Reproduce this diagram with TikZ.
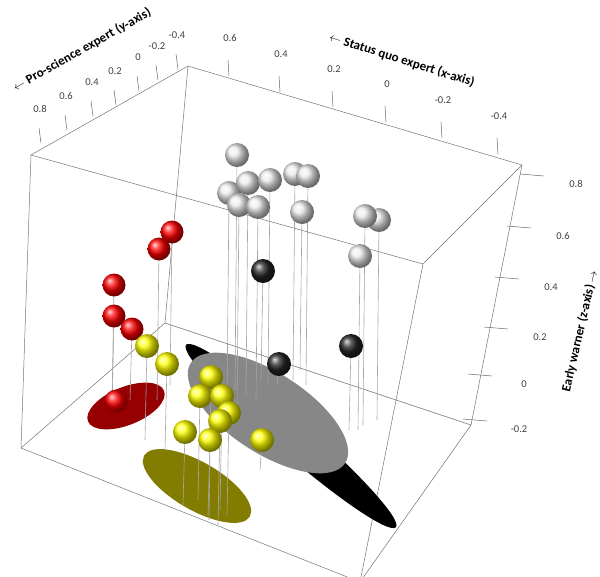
\documentclass[tikz,border=0pt]{standalone}
\usepackage{fontspec}
\setmainfont{Carlito}
\usepackage{tikz}
\definecolor{DarkRedFill}{RGB}{150,0,0}
\definecolor{OliveFill}{RGB}{130,125,0}
\definecolor{GreyFill}{RGB}{135,135,135}

\begin{document}
\begin{tikzpicture}[x=1pt,y=-1pt,
  boxline/.style={draw=black!55,line width=0.5pt},
  tick/.style={draw=black!60,line width=0.5pt},
  ticklbl/.style={font=\fontsize{10.5}{10.5}\selectfont,text=black!75},
  axlbl/.style={font=\bfseries\fontsize{13}{13}\selectfont},
  drop/.style={draw=black!35,line width=0.6pt},
  ball/.style n args={2}{circle,minimum size=#2,inner sep=0pt,shading=ball,ball color=#1}]
\useasboundingbox (0,0) rectangle (600,576);
% box corners
\coordinate (abl) at (188,66);  \coordinate (afl) at (31,155);
\coordinate (abr) at (522,165); \coordinate (afr) at (423,264);
\coordinate (bbl) at (165,323); \coordinate (bfl) at (21,448);
\coordinate (bbr) at (471,425); \coordinate (bfr) at (360,582);
\draw[boxline] (afl) -- (abl) -- (abr) -- (afr) -- cycle;
\draw[boxline] (abl) -- (bbl) -- (bfl);
\draw[boxline] (bbl) -- (bbr);
\draw[boxline] (afl) -- (bfl) -- (bfr) -- (bbr) -- (abr);
\draw[boxline] (afr) -- (bfr);
% ticks and labels, y-axis
\foreach \x/\y/\l in {40/109/0.8,66/96/0.6,92/82/0.4,115/71/0.2,138/57/0,157/46/-0.2,177/35/-0.4}{
  \draw[tick] (\x-1,\y+19) -- (\x+1,\y+34);
  \node[ticklbl] at (\x,\y) {\l};
}
% ticks and labels, x-axis
\foreach \x/\y/\l in {230/38/0.6,281/54/0.4,334/69/0.2,387/84/0,443/100/-0.2,499/116/-0.4}{
  \draw[tick] (\x-2,\y+22) -- (\x-1,\y+38);
  \node[ticklbl] at (\x,\y) {\l};
}
% ticks and labels, z-axis
\foreach \x/\y/\l in {576/184/0.8,563/236/0.6,551/287/0.4,540/337/0.2,524/384/0,519/429/-0.2}{
  \draw[tick] (\x-56,\y-10) -- (\x-32,\y-8);
  \node[ticklbl] at (\x,\y) {\l};
}
\node[axlbl,rotate=29.5] (ylab) at (82,50) {$\leftarrow$ Pro-science expert (y-axis)};
\node[axlbl,rotate=-17.6] (xlab) at (402,60) {$\leftarrow$ Status quo expert (x-axis)};
\node[axlbl,rotate=77] (zlab) at (580,331) {Early warner (z-axis) $\rightarrow$};
% ellipses
\fill[black] (291,436) ellipse[x radius=139,y radius=17,rotate=-41];
\fill[GreyFill] (268,413) ellipse[x radius=92,y radius=40,rotate=-33];
\fill[DarkRedFill] (126,406) ellipse[x radius=41,y radius=19,rotate=22];
\fill[OliveFill] (197,486) ellipse[x radius=61,y radius=24,rotate=-30];
% drop lines
\foreach \x/\y/\f in {237/155/390,229/193/400,248/183/395,270/180/385,295/174/380,308/176/385,239/205/405,258/207/400,302/212/370,
  365/216/425,379/220/420,360/256/430,263/271/380,279/364/385,351/346/430,
  172/232/385,159/249/400,114/285/405,114/316/410,132/329/400,116/401/412,
  147/346/440,167/364/450,211/377/520,200/396/500,222/396/510,229/413/515,220/421/525,185/432/505,210/440/515,262/440/470}{
  \draw[drop] (\x,\y) -- (\x-2,\f);
}
% spheres
\foreach \x/\y [count=\i] in {237/155,229/193,248/183,270/180,295/174,308/176,239/205,258/207,302/212,379/220,365/216,360/256}{
  \node[ball={white!92!black}{24pt}] (w\i) at (\x,\y) {};
}
\foreach \x/\y [count=\i] in {263/271,279/364,351/346}{
  \node[ball={black!85}{24pt}] (k\i) at (\x,\y) {};
}
\foreach \x/\y [count=\i] in {172/232,159/249,114/285,114/316,132/329,116/401}{
  \node[ball={red}{23pt}] (r\i) at (\x,\y) {};
}
\foreach \x/\y [count=\i] in {147/346,167/364,211/377,200/396,222/396,229/413,220/421,185/432,210/440,262/440}{
  \node[ball={yellow}{24pt}] (g\i) at (\x,\y) {};
}
\end{tikzpicture}
\end{document}
